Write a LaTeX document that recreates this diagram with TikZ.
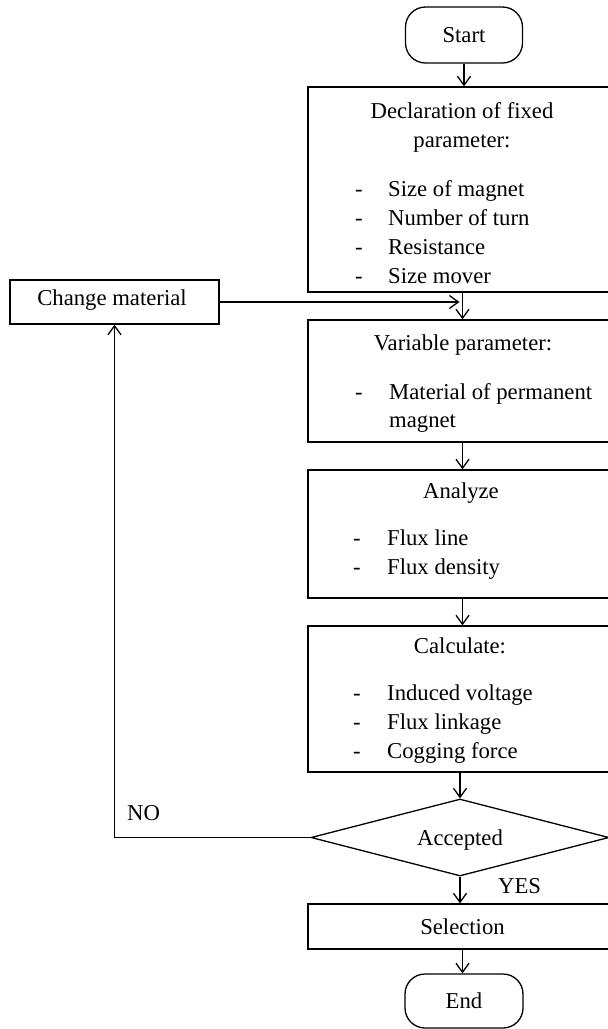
\documentclass[tikz,border=0pt]{standalone}
\usepackage{fontspec}
\setmainfont{Liberation Serif}
\usetikzlibrary{arrows.meta,shapes.geometric}

\tikzset{
  box/.style={draw, line width=1.3pt, rectangle, inner sep=0pt,
              font=\fontsize{22.7}{27}\selectfont, text height=15pt, text depth=0pt},
  term/.style={box, rounded corners=20pt},
  decision/.style={draw, line width=1.3pt, diamond, shape aspect=3.9, inner sep=0pt,
              font=\fontsize{22.7}{27}\selectfont, text height=15pt, text depth=0pt},
  txt/.style={inner sep=0pt, anchor=base, font=\fontsize{22.7}{27}\selectfont},
  ltxt/.style={txt, anchor=base west},
  arr/.style={line width=1.3pt, -{Straight Barb[length=9pt,width=13pt,line width=1.3pt]}},
  link/.style={line width=1.3pt},
}

\begin{document}
\begin{tikzpicture}[x=1pt,y=-1pt]
\useasboundingbox (0,0) rectangle (608,1029);

% terminals and process boxes
\node[term, minimum width=117pt, minimum height=56pt] (start) at (464,35) {Start};
\node[box, minimum width=309pt, minimum height=205pt] (decl) at (462.5,189.5) {};
\node[box, minimum width=209pt, minimum height=44pt] (cm) at (114.5,302) {};
\node[box, minimum width=309pt, minimum height=122pt] (var) at (462.5,381) {};
\node[box, minimum width=309pt, minimum height=128pt] (ana) at (462.5,534) {};
\node[box, minimum width=309pt, minimum height=146pt] (calc) at (462.5,699) {};
\node[decision, minimum width=298pt, minimum height=77pt] (acc) at (460,837.5) {Accepted};
\node[box, minimum width=309pt, minimum height=45pt] (sel) at (462.5,926.5) {Selection};
\node[term, minimum width=118pt, minimum height=54pt] (end) at (464,1001) {End};

% box texts
\node[txt] (cmt) at (112,305.5) {Change material};

\node[txt] (d1) at (462,118) {Declaration of fixed};
\node[txt] (d2) at (462,147) {parameter:};
\node[txt] (dd1) at (359,196) {-};
\node[txt] (dd2) at (359,225) {-};
\node[txt] (dd3) at (359,254) {-};
\node[txt] (dd4) at (359,283) {-};
\node[ltxt] (di1) at (388,196) {Size of magnet};
\node[ltxt] (di2) at (388,225) {Number of turn};
\node[ltxt] (di3) at (388,254) {Resistance};
\node[ltxt] (di4) at (388,283) {Size mover};

\node[txt] (v1) at (463,350) {Variable parameter:};
\node[txt] (vd1) at (359,399) {-};
\node[ltxt] (vi1) at (389,399) {Material of permanent};
\node[ltxt] (vi2) at (389,427) {magnet};

\node[txt] (a1) at (461,498) {Analyze};
\node[txt] (ad1) at (357,545) {-};
\node[txt] (ad2) at (357,574) {-};
\node[ltxt] (ai1) at (387,545) {Flux line};
\node[ltxt] (ai2) at (387,574) {Flux density};

\node[txt] (c1) at (460,653) {Calculate:};
\node[txt] (cd1) at (357,700) {-};
\node[txt] (cd2) at (357,729) {-};
\node[txt] (cd3) at (357,758) {-};
\node[ltxt] (ci1) at (387,700) {Induced voltage};
\node[ltxt] (ci2) at (387,729) {Flux linkage};
\node[ltxt] (ci3) at (387,758) {Cogging force};

% branch labels
\node[ltxt] (no) at (127,820) {NO};
\node[ltxt] (yes) at (498,893) {YES};

% connectors
\draw[arr] (start.south) -- (start.south |- decl.north);
\draw[arr] (decl.south) -- (decl.south |- var.north);
\draw[arr] (cm.east) -- ([xshift=-3pt]cm.east -| decl.south);
\draw[arr] (var.south) -- (var.south |- ana.north);
\draw[arr] (ana.south) -- (ana.south |- calc.north);
\draw[arr] (calc.south -| acc.north) -- (acc.north);
\draw[arr] (acc.south) -- (acc.south |- sel.north);
\draw[arr] (sel.south) -- (sel.south |- end.north);
\draw[arr] (acc.west) -| (cm.south);
\end{tikzpicture}
\end{document}
